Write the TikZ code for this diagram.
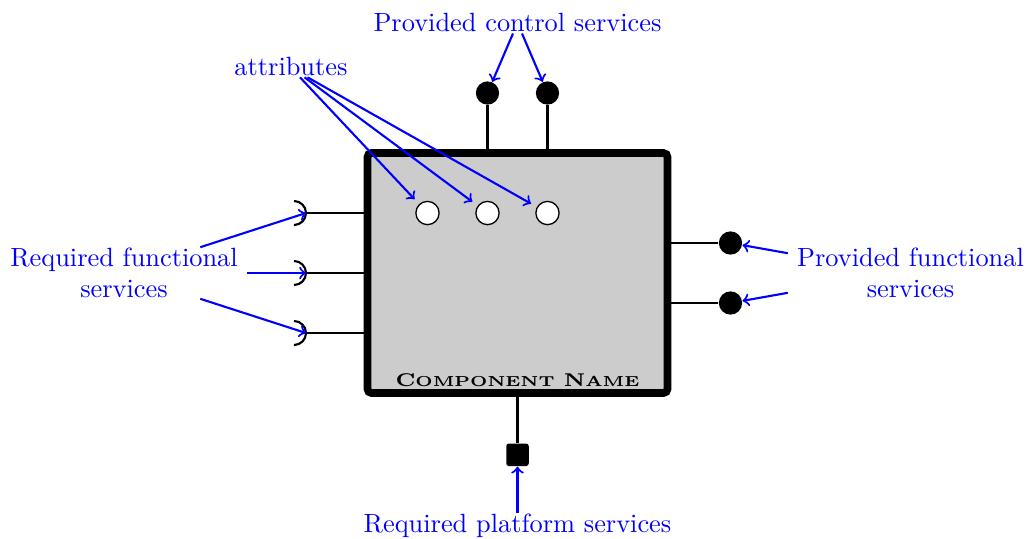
\documentclass[tikz,border=0pt]{standalone}
\usetikzlibrary{calc}
\begin{document}
\begin{tikzpicture}[x=0.8cm, y=0.8cm,
    nota/.style={blue, align=center},
    flecha/.style={->, thick, blue},
    conector/.style={thick},
    bola/.style={circle, fill=black, inner sep=0pt, minimum size=0.31cm},
    atributo/.style={circle, draw, fill=white, line width=0.5pt, inner sep=0pt, minimum size=0.31cm},
    caja/.style={draw, line width=2.9pt, fill=black!20, rounded corners=1.5pt, minimum width=4cm, minimum height=3.2cm}]
    \useasboundingbox (-8.625,-4.417) rectangle (8.475,4.55);

    % Componente
    \node[caja] (comp) at (0,0) {};
    \node (nombre) at (0,-1.78) {\scalebox{1.16}[1]{\scriptsize\bfseries C{\fontsize{5.5}{6}\selectfont OMPONENT} N{\fontsize{5.5}{6}\selectfont AME}}};

    % Atributos
    \foreach \x [count=\i] in {-1.5,-0.5,0.5}
        \node[atributo] (at\i) at (\x,1) {};

    % Servicios de control provistos (arriba)
    \foreach \x [count=\i] in {-0.5,0.5} {
        \node[bola] (pc\i) at (\x,3) {};
        \draw[conector] (comp.north -| pc\i) -- (pc\i);
    }

    % Servicios funcionales requeridos (izquierda)
    \foreach \y [count=\i] in {1,0,-1} {
        \coordinate (rf\i) at (-3.525,\y);
        \draw[conector] (comp.west |- rf\i) -- (rf\i);
        \draw[conector] ($(rf\i)+(-0.2,0.2)$) arc[start angle=90, end angle=-90, radius=0.2];
    }

    % Servicios funcionales provistos (derecha)
    \foreach \y [count=\i] in {0.5,-0.5} {
        \node[bola] (pf\i) at (3.55,\y) {};
        \draw[conector] (comp.east |- pf\i) -- (pf\i);
    }

    % Servicio de plataforma (abajo)
    \node[fill=black, rounded corners=1pt, minimum size=0.3cm, inner sep=0pt] (pp) at (0,-3.03) {};
    \draw[conector] (comp.south) -- (pp);

    % Etiquetas
    \node[nota] (pcs) at (0,4.17) {Provided control services};
    \node[nota] (attr) at (-3.775,3.44) {attributes};
    \node[nota] (rfs) at (-6.558,0) {Required functional\\services};
    \node[nota] (pfs) at (6.55,0) {Provided functional\\services};
    \node[nota] (rps) at (0,-4.22) {Required platform services};

    % Flechas
    \draw[flecha] ([xshift=-0.06cm, yshift=3pt]pcs.south) -- (pc1);
    \draw[flecha] ([xshift=0.06cm, yshift=3pt]pcs.south) -- (pc2);
    \foreach \s [count=\i] in {0.12,0.18,0.22}
        \draw[flecha, shorten >=2.5pt] ([xshift=\s cm, yshift=3pt]attr.south) -- (at\i);
    \draw[flecha] ($(rfs.east)+(-0.78,0.43)$) -- (rf1);
    \draw[flecha] (rfs.east) -- (rf2);
    \draw[flecha] ($(rfs.east)+(-0.78,-0.43)$) -- (rf3);
    \draw[flecha] ($(pfs.west)+(0,0.33)$) -- (pf1);
    \draw[flecha] ($(pfs.west)+(0,-0.33)$) -- (pf2);
    \draw[flecha] ([yshift=-3pt]rps.north) -- (pp);
\end{tikzpicture}
\end{document}
